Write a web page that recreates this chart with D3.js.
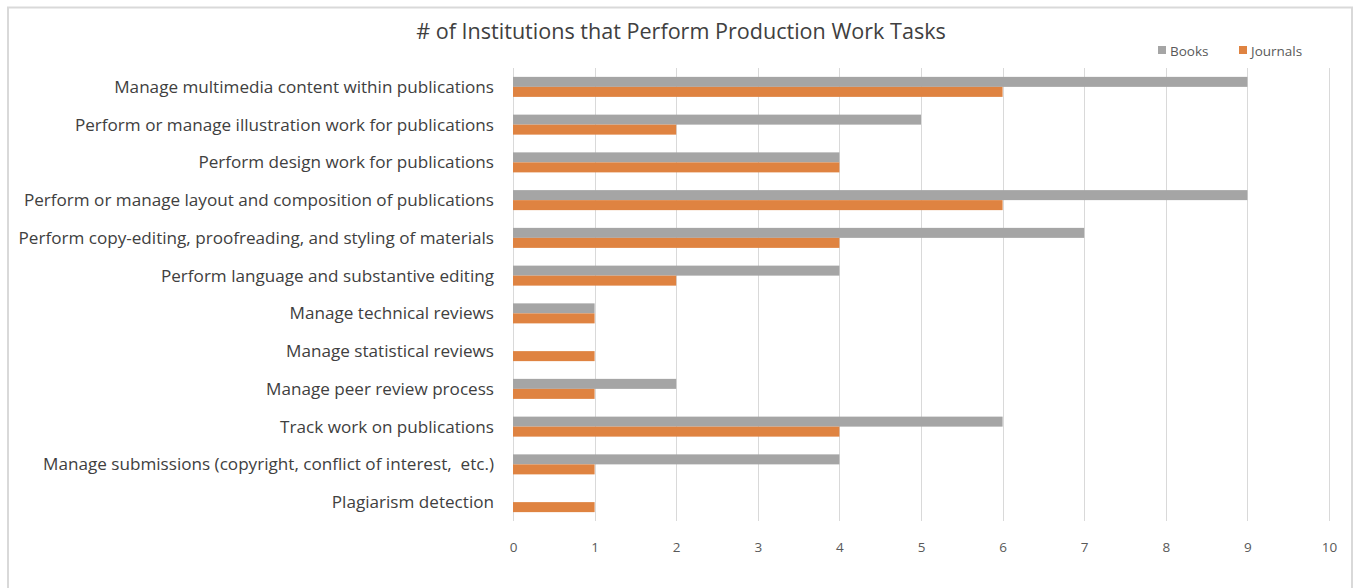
<!DOCTYPE html>
<html><head><meta charset="utf-8">
<script src="https://cdn.jsdelivr.net/npm/d3@7"></script>
<style>html,body{margin:0;padding:0;background:#fff;}svg{display:block;}svg text{white-space:pre;}</style>
</head><body>
<svg id="chart" width="1356" height="588"></svg>
<script>
const categories = [
  "Manage multimedia content within publications",
  "Perform or manage illustration work for publications",
  "Perform design work for publications",
  "Perform or manage layout and composition of publications",
  "Perform copy-editing, proofreading, and styling of materials",
  "Perform language and substantive editing",
  "Manage technical reviews",
  "Manage statistical reviews",
  "Manage peer review process",
  "Track work on publications",
  "Manage submissions (copyright, conflict of interest,  etc.)",
  "Plagiarism detection"
];
const books =    [9, 5, 4, 9, 7, 4, 1, 0, 2, 6, 4, 0];
const journals = [6, 2, 4, 6, 4, 2, 1, 1, 1, 4, 1, 1];
const seriesNames = ["Books", "Journals"];
const xTicks = [0,1,2,3,4,5,6,7,8,9,10];
const title = "# of Institutions that Perform Production Work Tasks";

const colors = {Books: "#A5A5A5", Journals: "#DF8341"};
const font = "'Open Sans', Lato, sans-serif";
const svg = d3.select("#chart");

// chart border
svg.append("rect").attr("x", 8).attr("y", 7.5).attr("width", 1344).attr("height", 600)
  .attr("fill", "none").attr("stroke", "#d9d9d9").attr("stroke-width", 2);

const plotLeft = 513, plotRight = 1329, plotTop = 68, plotBottom = 521;
const x = d3.scaleLinear().domain([0, 10]).range([plotLeft, plotRight]);
const y = d3.scaleBand().domain(categories).range([plotTop, plotBottom]).paddingInner(0.47).paddingOuter(0.235);
const ySub = d3.scaleBand().domain(seriesNames).range([0, y.bandwidth()]);

// gridlines
svg.append("g").selectAll("line").data(xTicks).join("line")
  .attr("x1", d => Math.round(x(d)) + 0.5).attr("x2", d => Math.round(x(d)) + 0.5)
  .attr("y1", plotTop).attr("y2", plotBottom)
  .attr("stroke", "#d9d9d9").attr("stroke-width", 1);

// x axis labels
const xAxis = d3.axisBottom(x).tickValues(xTicks).tickSize(0).tickPadding(0).tickFormat(d3.format("d"));
const gx = svg.append("g").attr("transform", `translate(0,${plotBottom + 21})`).call(xAxis);
gx.select(".domain").remove();
gx.selectAll("text").attr("font-family", font).attr("font-size", 13.5).attr("fill", "#595959");

// y axis labels
const yAxis = d3.axisLeft(y).tickSize(0).tickPadding(19);
const gy = svg.append("g").attr("transform", `translate(${plotLeft},0)`).call(yAxis);
gy.select(".domain").remove();
const yTexts = gy.selectAll("text").attr("font-family", font).attr("font-size", 16).attr("fill", "#404040").attr("dy", "0.35em");
// fit label size so the longest label spans to the reference's left edge
let maxW = 0;
yTexts.each(function(){ maxW = Math.max(maxW, this.getComputedTextLength()); });
const labelSize = 16 * 476 / maxW;
yTexts.attr("font-size", labelSize);

// bars
const rows = categories.map((c, i) => ({cat: c, Books: books[i], Journals: journals[i]}));
const g = svg.append("g");
seriesNames.forEach(s => {
  g.selectAll(".bar-" + s).data(rows).join("rect")
    .attr("class", "bar-" + s)
    .attr("x", x(0))
    .attr("y", d => y(d.cat) + ySub(s))
    .attr("width", d => x(d[s]) - x(0))
    .attr("height", ySub.bandwidth())
    .attr("fill", colors[s]);
});

// title
const t = svg.append("text").attr("x", 681).attr("y", 39).attr("text-anchor", "middle")
  .attr("font-family", font).attr("font-size", 20).attr("fill", "#404040").text(title);
const tw = t.node().getComputedTextLength();
t.attr("font-size", 20 * 530 / tw);

// legend
const legendX = [1158, 1239];
seriesNames.forEach((s, i) => {
  svg.append("rect").attr("x", legendX[i]).attr("y", 46).attr("width", 8).attr("height", 8).attr("fill", colors[s]);
  svg.append("text").attr("x", legendX[i] + 12).attr("y", 55.5)
    .attr("font-family", font).attr("font-size", 13.5).attr("fill", "#595959").text(s);
});
</script>
</body></html>
